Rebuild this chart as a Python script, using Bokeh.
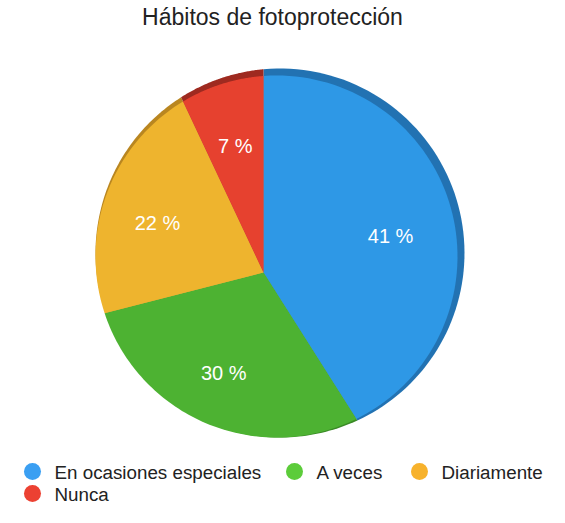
import numpy as np
from bokeh.plotting import figure
from bokeh.models import Range1d
from bokeh.embed import file_html
from bokeh.resources import INLINE
from bokeh.core.properties import value

# ---- data ----
categories = ["En ocasiones especiales", "A veces", "Diariamente", "Nunca"]
percentages = [41, 30, 22, 7]
label_texts = ["41 %", "30 %", "22 %", "7 %"]
face_colors = ["#2e98e6", "#4db232", "#eeb42e", "#e6412f"]
rim_colors = ["#2272b2", "#3a8a26", "#b98620", "#9e2a20"]
legend_colors = ["#3a9ff2", "#5ccc3a", "#f7b22c", "#ec4132"]
title_text = "Hábitos de fotoprotección"

W, H = 549, 507
p = figure(width=W, height=H, output_backend="svg", toolbar_location=None,
           x_range=Range1d(0, W), y_range=Range1d(H, 0),
           min_border=0, outline_line_color=None)
p.axis.visible = False
p.grid.visible = False
p.background_fill_color = "white"

# perspective pie geometry (screen-like coordinates, y downward)
apex = np.array([263.0, 272.0])
face_c, face_r = np.array([276.0, 256.0]), 181.0
rim_c, rim_r = np.array([279.5, 252.5]), 184.5


def ray_t(theta, c, r):
    d = np.array([np.sin(theta), -np.cos(theta)])
    m = apex - c
    b = np.dot(m, d)
    cc = np.dot(m, m) - r * r
    return -b + np.sqrt(b * b - cc), d


def slice_poly(a0, a1, c, r):
    xs, ys = [apex[0]], [apex[1]]
    for th in np.linspace(a0, a1, 80):
        t, d = ray_t(th, c, r)
        pt = apex + t * d
        xs.append(pt[0]); ys.append(pt[1])
    return xs, ys


total = float(sum(percentages))
angles = np.cumsum([0] + [v / total * 2 * np.pi for v in percentages])

rim_xs, rim_ys, face_xs, face_ys = [], [], [], []
lx, ly = [], []
for i in range(len(percentages)):
    a0, a1 = angles[i], angles[i + 1]
    xs, ys = slice_poly(a0, a1, rim_c, rim_r)
    rim_xs.append(xs); rim_ys.append(ys)
    xs, ys = slice_poly(a0, a1, face_c, face_r)
    face_xs.append(xs); face_ys.append(ys)
    mid = (a0 + a1) / 2
    t, d = ray_t(mid, face_c, face_r)
    pt = apex + 0.67 * t * d
    lx.append(pt[0]); ly.append(pt[1])

p.patches(xs=rim_xs, ys=rim_ys, fill_color=rim_colors, line_color=None)
p.patches(xs=face_xs, ys=face_ys, fill_color=face_colors, line_color=None)

p.text(x=lx, y=ly, text=label_texts, text_color="white",
       text_font=value("Liberation Sans"), text_font_size="20px",
       text_align="center", text_baseline="middle")

# title
p.text(x=[272], y=[16], text=[title_text], text_color="#222222",
       text_font=value("Liberation Sans"), text_font_size="23px",
       text_align="center", text_baseline="middle")

# legend
leg_x = [32, 294, 419, 32]
leg_y = [471, 471, 471, 493]
p.scatter(x=leg_x, y=leg_y, size=17, marker="circle",
          fill_color=legend_colors, line_color=None)
p.text(x=[x + 22 for x in leg_x], y=[y + 1 for y in leg_y], text=categories,
       text_color="#222222", text_font=value("Liberation Sans"),
       text_font_size="18.8px", text_align="left", text_baseline="middle")

open("out.html", "w").write(file_html(p, INLINE))
